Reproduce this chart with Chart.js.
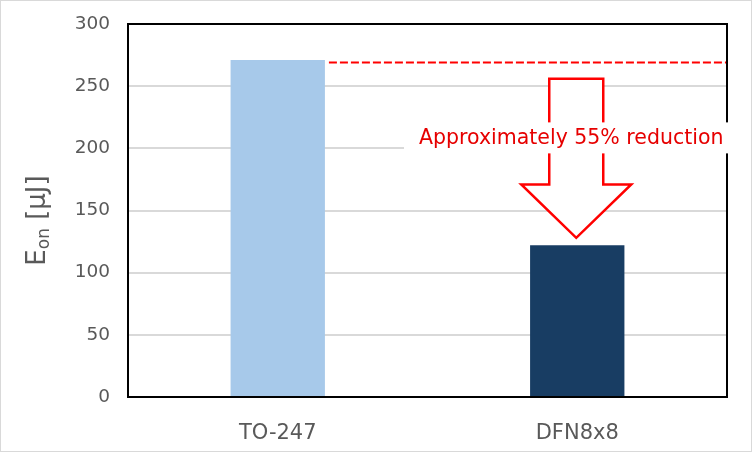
<!DOCTYPE html>
<html>
<head>
<meta charset="utf-8">
<script src="https://cdn.jsdelivr.net/npm/chart.js@4"></script>
<style>
  html, body { margin: 0; padding: 0; background: #fff; }
  #wrap { width: 750px; height: 450px; border: 1px solid #d9d9d9; }
</style>
</head>
<body>
<div id="wrap"><canvas id="mycanvas" width="750" height="450"></canvas></div>
<script>
var categories = ['TO-247', 'DFN8x8'];
var energy = [271, 122];
var barColors = ['#a7c9ea', '#183d63'];
var refLevel = 269;
// arrow levels in µJ: top of shaft, base of head, tip
var arrowLevels = [256, 171, 128];
var noteLevel = 208;
var noteText = 'Approximately 55% reduction';
var fontFamily = '"DejaVu Sans", sans-serif';

var annot = {
  id: 'annot',
  afterDatasetsDraw: function(chart) {
    var ctx = chart.ctx, a = chart.chartArea;
    var x = chart.scales.x, y = chart.scales.y;
    ctx.save();

    // frame round the plot
    ctx.strokeStyle = '#000';
    ctx.lineWidth = 2;
    ctx.setLineDash([]);
    ctx.strokeRect(a.left, a.top, a.right - a.left, a.bottom - a.top);

    // dashed reference line
    var bar0 = chart.getDatasetMeta(0).data[0];
    var yRef = y.getPixelForValue(refLevel);
    ctx.strokeStyle = '#ff0000';
    ctx.lineWidth = 2;
    ctx.setLineDash([8, 3]);
    ctx.beginPath();
    ctx.moveTo(bar0.x + bar0.width / 2 + 4, yRef);
    ctx.lineTo(a.right - 1, yRef);
    ctx.stroke();

    // hollow arrow
    var cx = x.getPixelForValue(1) - 1;
    var yTop = y.getPixelForValue(arrowLevels[0]);
    var yHead = y.getPixelForValue(arrowLevels[1]);
    var yTip = y.getPixelForValue(arrowLevels[2]);
    ctx.setLineDash([]);
    ctx.lineWidth = 2.5;
    ctx.beginPath();
    ctx.moveTo(cx - 27, yTop);
    ctx.lineTo(cx + 27, yTop);
    ctx.lineTo(cx + 27, yHead);
    ctx.lineTo(cx + 55, yHead);
    ctx.lineTo(cx, yTip);
    ctx.lineTo(cx - 55, yHead);
    ctx.lineTo(cx - 27, yHead);
    ctx.closePath();
    ctx.fillStyle = '#fff';
    ctx.fill();
    ctx.stroke();

    // label with white box
    ctx.font = '20.5px ' + fontFamily;
    var tw = ctx.measureText(noteText).width;
    var tx = cx - 5;
    var ty = y.getPixelForValue(noteLevel);
    var boxL = tx - tw / 2 - 15;
    ctx.fillStyle = '#fff';
    ctx.fillRect(boxL, ty - 16, a.right + 2 - boxL, 31);
    ctx.fillStyle = '#e60000';
    ctx.textAlign = 'center';
    ctx.textBaseline = 'middle';
    ctx.fillText(noteText, tx, ty);

    ctx.restore();
  },
  afterDraw: function(chart) {
    // y axis title with subscript
    var ctx = chart.ctx, a = chart.chartArea;
    ctx.save();
    ctx.translate(37, (a.top + a.bottom) / 2 + 10);
    ctx.rotate(-Math.PI / 2);
    ctx.fillStyle = '#595959';
    ctx.textBaseline = 'middle';
    ctx.textAlign = 'left';
    var big = '26px ' + fontFamily, small = '17px ' + fontFamily;
    ctx.font = big;
    var w1 = ctx.measureText('E').width;
    var w3 = ctx.measureText(' [μJ]').width;
    ctx.font = small;
    var w2 = ctx.measureText('on').width;
    var x0 = -(w1 + w2 + w3) / 2;
    ctx.font = big;
    ctx.fillText('E', x0, 0);
    ctx.font = small;
    ctx.fillText('on', x0 + w1, 7);
    ctx.font = big;
    ctx.fillText(' [μJ]', x0 + w1 + w2, 0);
    ctx.restore();
  }
};

var ctx = document.getElementById('mycanvas');

var barGraph = new Chart(ctx, {
  type: 'bar',
  data: {
    labels: categories,
    datasets: [{
      data: energy,
      backgroundColor: barColors,
      borderWidth: 0,
      categoryPercentage: 1,
      barPercentage: 0.315
    }]
  },
  options: {
    responsive: false,
    animation: false,
    layout: { padding: { top: 23, right: 24, left: 0, bottom: 0 } },
    plugins: { legend: { display: false }, tooltip: { enabled: false } },
    scales: {
      x: {
        grid: { display: false },
        border: { display: false },
        ticks: { color: '#595959', font: { family: fontFamily, size: 21 }, padding: 16 },
        afterFit: function(s) { s.height = 54; s.paddingLeft = 0; s.paddingRight = 0; }
      },
      y: {
        min: 0,
        max: 300,
        ticks: { stepSize: 50, color: '#595959', font: { family: fontFamily, size: 18.5 }, padding: 18 },
        grid: { color: '#d9d9d9', lineWidth: 2, drawTicks: false },
        border: { display: false },
        afterFit: function(s) { s.width = 127; s.paddingTop = 0; s.paddingBottom = 0; }
      }
    }
  },
  plugins: [annot]
});
</script>
</body>
</html>
